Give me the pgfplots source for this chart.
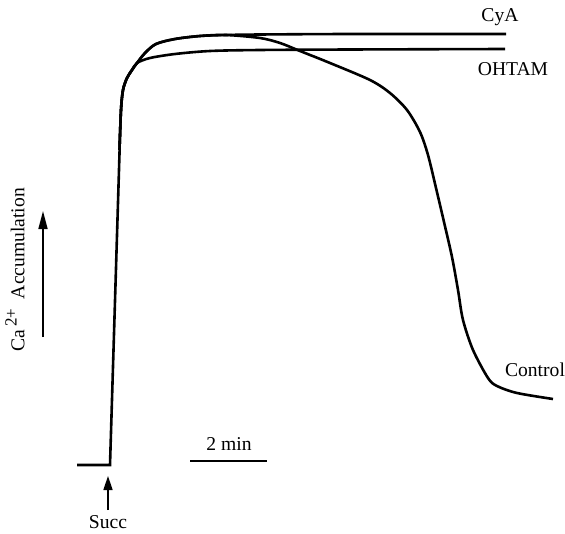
\documentclass[border=0pt]{standalone}
\usepackage{pgfplots}
\pgfplotsset{compat=1.18}
\usepackage{fontspec}
\setmainfont{Liberation Serif}
\usetikzlibrary{arrows.meta}
\begin{document}
\begin{tikzpicture}[every node/.style={inner sep=0pt, outer sep=0pt}]
\begin{axis}[
  scale only axis, width=282.5bp, height=267bp,
  xmin=0, xmax=565, ymin=0, ymax=534, y dir=reverse,
  hide axis, clip=false,
  every axis plot/.append style={line width=1.3bp, black},
]
\path (rel axis cs:0,0) rectangle (rel axis cs:1,1);
% baseline and rise
\addplot[sharp plot] coordinates {(77,465) (110,465) (119.6,150)};
% CyA
\addplot[smooth, tension=0.5] coordinates {(119.5,150) (121,110) (123,90) (127,78) (132,70) (137,63) (145,53) (156,44) (175,39) (200,36) (226,35) (260,34.5) (350,34) (506,34)};
% Control
\addplot[smooth, tension=0.5] coordinates {(119.5,150) (121,110) (123,90) (127,78) (132,70) (137,63) (145,53) (156,44) (175,39) (200,36) (226,35) (260,38) (280,43) (300,51) (330,63) (370,80) (390,93) (407,110) (420,132) (428,155) (436,188) (444,222) (452,257) (458,290) (463,320) (473,350) (488,378) (497,386) (517,393) (553,399)};
% OHTAM
\addplot[smooth, tension=0.5] coordinates {(119.5,150) (121,110) (123,90) (127,78) (132,70) (137,63) (150,58) (175,54) (210,51) (260,50) (350,49.5) (505,49)};
% labels
\node[font=\fontsize{9.8bp}{11bp}\selectfont] at (axis cs:500,17) {CyA};
\node[font=\fontsize{9.8bp}{11bp}\selectfont] at (axis cs:513,69) {OHTAM};
\node[font=\fontsize{9.8bp}{11bp}\selectfont] at (axis cs:535,370) {Control};
\node[font=\fontsize{9.8bp}{11bp}\selectfont] at (axis cs:229,444) {2 min};
\draw[line width=0.8bp] (axis cs:190,461) -- (axis cs:267,461);
\node[font=\fontsize{9.8bp}{11bp}\selectfont] at (axis cs:108,522) {Succ};
\draw[line width=0.8bp, -{Triangle[length=7bp,width=4.5bp]}] (axis cs:108,510) -- (axis cs:108,476);
\node[font=\fontsize{9.8bp}{11bp}\selectfont, rotate=90] at (axis cs:15,270) {Ca\,\raisebox{0.4em}{\fontsize{8.5bp}{9bp}\selectfont 2+}\ \ Accumulation};
\draw[line width=0.8bp, -{Triangle[length=9bp,width=4.5bp]}] (axis cs:43,337) -- (axis cs:43,211);
\end{axis}
\end{tikzpicture}
\end{document}
